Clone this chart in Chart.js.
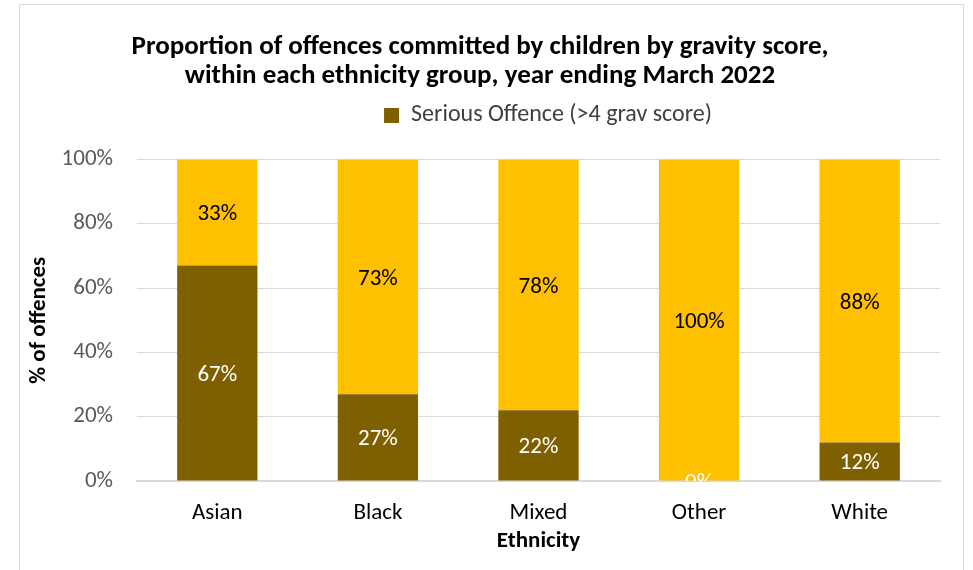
<!DOCTYPE html>
<html>
<head>
<meta charset="utf-8">
<script src="https://cdn.jsdelivr.net/npm/chart.js@4.4.1/dist/chart.umd.min.js"></script>
<style>
html,body{margin:0;padding:0;background:#fff;}
#wrap{position:relative;width:973px;height:570px;overflow:hidden;}
#frame{position:absolute;left:19px;top:4px;width:945px;height:600px;border:1px solid #d9d9d9;box-sizing:border-box;}
canvas{position:absolute;left:0;top:0;}
</style>
</head>
<body>
<div id="wrap">
<div id="frame"></div>
<canvas id="c" width="973" height="570"></canvas>
</div>
<script>
const categories = ['Asian', 'Black', 'Mixed', 'Other', 'White'];
const seriousValues = [67, 27, 22, 0, 12];
const otherValues = [33, 73, 78, 100, 88];
const yTicks = [0, 20, 40, 60, 80, 100];
const titleLines = ['Proportion of offences committed by children by gravity score,', 'within each ethnicity group, year ending March 2022'];

const FONT = "Carlito, Calibri, 'Liberation Sans Narrow', 'Open Sans', sans-serif";
const BROWN = '#7F6000';
const YELLOW = '#FFC000';

const labelPlugin = {
  id: 'barLabels',
  afterDatasetsDraw(chart) {
    const ctx = chart.ctx;
    const a = chart.chartArea;
    ctx.save();
    ctx.beginPath();
    ctx.rect(a.left, a.top, a.right - a.left, a.bottom - a.top);
    ctx.clip();
    ctx.font = "23px " + FONT;
    ctx.textAlign = 'center';
    ctx.textBaseline = 'middle';
    chart.data.datasets.forEach((ds, di) => {
      const meta = chart.getDatasetMeta(di);
      meta.data.forEach((el, i) => {
        const v = ds.data[i];
        ctx.fillStyle = di === 0 ? '#ffffff' : '#000000';
        ctx.fillText(v + '%', el.x, (el.y + el.base) / 2 + 2);
      });
    });
    ctx.restore();
  }
};

const legendAdjust = {
  id: 'legendAdjust',
  beforeLayout(chart) {
    const lg = chart.legend;
    if (lg && !lg._patched) {
      const orig = lg.fit;
      lg.fit = function () { orig.call(this); this.height += 22; };
      lg._patched = true;
    }
  },
  afterLayout(chart) {
    chart.legend.left += 68;
    chart.legend.right += 68;
  }
};

new Chart(document.getElementById('c'), {
  type: 'bar',
  data: {
    labels: categories,
    datasets: [
      { label: 'Serious Offence (>4 grav score)', data: seriousValues, backgroundColor: BROWN, barPercentage: 0.5, categoryPercentage: 1.0 },
      { label: 'Non-serious Offence (≤4 grav score)', data: otherValues, backgroundColor: YELLOW, barPercentage: 0.5, categoryPercentage: 1.0 }
    ]
  },
  options: {
    responsive: false,
    animation: false,
    layout: { padding: { left: 20, right: 33, top: 0, bottom: 8 } },
    plugins: {
      title: {
        display: true,
        text: titleLines,
        font: { family: FONT, size: 27, weight: 'bold', lineHeight: 1.1 },
        color: '#000',
        padding: { top: 32, bottom: 2 }
      },
      legend: {
        display: true,
        labels: {
          filter: (item) => item.datasetIndex === 0,
          font: { family: FONT, size: 24 },
          color: '#404040',
          boxWidth: 15,
          boxHeight: 15,
          padding: 10
        }
      },
      tooltip: { enabled: false }
    },
    scales: {
      x: {
        stacked: true,
        grid: { display: false, drawTicks: false },
        border: { color: '#d9d9d9', width: 2 },
        ticks: { font: { family: FONT, size: 23 }, color: '#000', padding: 18 },
        afterFit: (s) => { s.height = 81; },
        title: { display: true, text: 'Ethnicity', font: { family: FONT, size: 23, weight: 'bold' }, color: '#000', padding: { top: 0, bottom: 7 } }
      },
      y: {
        stacked: true,
        min: 0,
        max: 100,
        afterBuildTicks: (s) => { s.ticks = yTicks.map(v => ({ value: v })); },
        afterFit: (s) => { s.width = 117; },
        grid: { color: '#d9d9d9', drawTicks: false },
        border: { display: false },
        ticks: { font: { family: FONT, size: 23 }, color: '#595959', padding: 24, callback: (v) => v + '%' },
        title: { display: true, text: '% of offences', font: { family: FONT, size: 23, weight: 'bold' }, color: '#000', padding: 5 }
      }
    }
  },
  plugins: [labelPlugin, legendAdjust]
});
</script>
</body>
</html>
